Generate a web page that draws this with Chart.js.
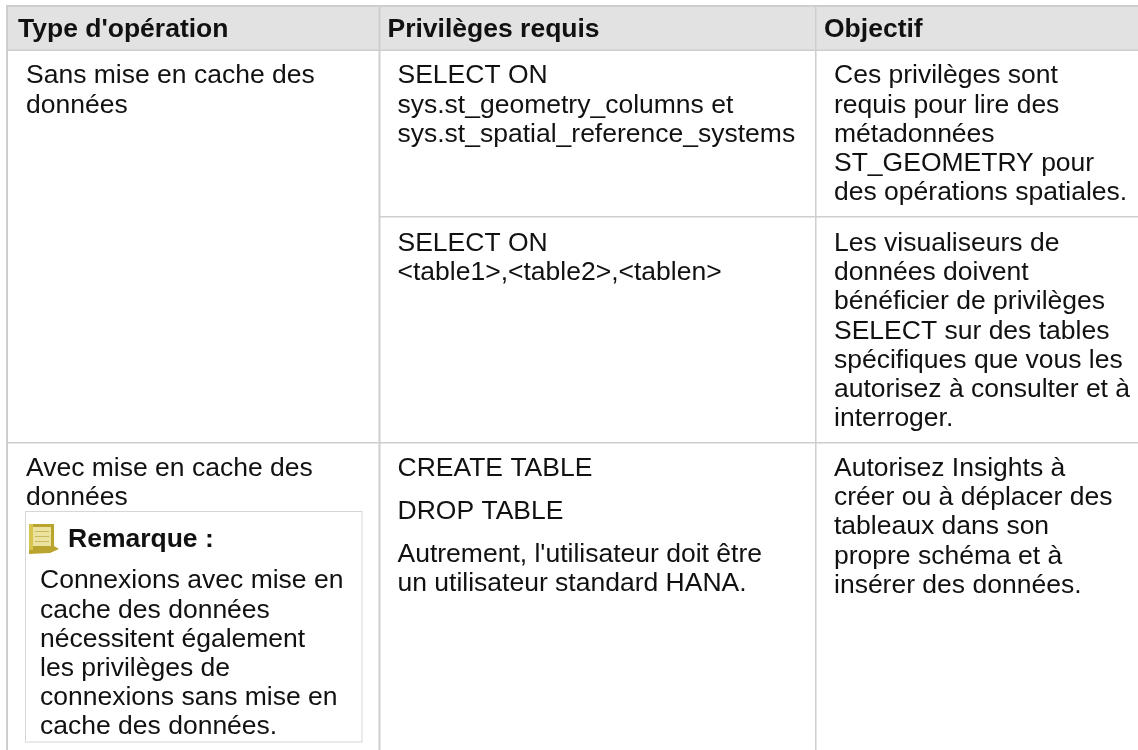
<!DOCTYPE html>
<html lang="fr"><head><meta charset="utf-8">
<style>html,body{margin:0;padding:0;background:#fff}canvas{display:block}</style>
<script src="https://cdn.jsdelivr.net/npm/chart.js@4"></script></head>
<body><canvas id="c" width="1138" height="750"></canvas>
<script>
const headers = ["Type d'opération", "Privilèges requis", "Objectif"];
const opSans = ["Sans mise en cache des", "données"];
const opAvec = ["Avec mise en cache des", "données"];
const noteTitle = "Remarque :";
const noteBody = ["Connexions avec mise en", "cache des données", "nécessitent également", "les privilèges de", "connexions sans mise en", "cache des données."];
const priv1 = ["SELECT ON", "sys.st_geometry_columns et", "sys.st_spatial_reference_systems"];
const priv2 = ["SELECT ON", "<table1>,<table2>,<tablen>"];
const priv3a = ["CREATE TABLE"];
const priv3b = ["DROP TABLE"];
const priv3c = ["Autrement, l'utilisateur doit être", "un utilisateur standard HANA."];
const obj1 = ["Ces privilèges sont", "requis pour lire des", "métadonnées", "ST_GEOMETRY pour", "des opérations spatiales."];
const obj2 = ["Les visualiseurs de", "données doivent", "bénéficier de privilèges", "SELECT sur des tables", "spécifiques que vous les", "autorisez à consulter et à", "interroger."];
const obj3 = ["Autorisez Insights à", "créer ou à déplacer des", "tableaux dans son", "propre schéma et à", "insérer des données."];

const FONT = '"Liberation Sans", Arial, sans-serif', SIZE = 26.5, LH = 29.2;
const tablePlugin = { id:'table', beforeDatasetsDraw(chart){
  const c = chart.ctx, X = v=>chart.scales.x.getPixelForValue(v), Y = v=>chart.scales.y.getPixelForValue(v);
  const rect=(x0,y0,x1,y1,col)=>{c.fillStyle=col;c.fillRect(X(x0),Y(y0),X(x1)-X(x0),Y(y1)-Y(y0));};
  const text=(lines,x,y,bold)=>{c.fillStyle='#111';c.textBaseline='alphabetic';c.textAlign='left';
    c.font=(bold?'bold ':'')+SIZE+'px '+FONT; lines.forEach((t,i)=>c.fillText(t,X(x),Y(y+i*LH)));};
  const B='#cecece';
  rect(6,5,1138,50,'#e2e2e2');
  rect(6,5,1138,7,B); rect(6,5,8,750,B);
  rect(6,49.5,1138,51,B);
  rect(378.5,5,380.5,750,B); rect(815,5,816.5,750,B);
  rect(380,216,1138,217.5,B); rect(6,442,1138,443.5,B);
  text([headers[0]],18,36.5,true); text([headers[1]],387.5,36.5,true); text([headers[2]],824,36.5,true);
  text(opSans,26,83.3); text(priv1,397.5,83.3); text(obj1,834,83.3);
  text(priv2,397.5,251); text(obj2,834,251);
  text(opAvec,26,475.5); text(priv3a,397.5,476); text(priv3b,397.5,518.5); text(priv3c,397.5,561.5); text(obj3,834,476);
  // note box
  rect(25,511,362.5,742.5,'#d6d6d6'); rect(26,512,361.5,741.5,'#fff');
  // icon
  c.fillStyle='#b9a42f'; c.beginPath(); c.moveTo(X(29),Y(524)); c.lineTo(X(54),Y(524)); c.lineTo(X(54),Y(546)); c.lineTo(X(59),Y(549)); c.lineTo(X(50),Y(553)); c.lineTo(X(29),Y(554)); c.closePath(); c.fill();
  rect(33,527,51,546,'#ece2a0');
  rect(29,524,33,550,'#d6c44e');
  [531,536,541].forEach(v=>rect(35,v,49,v+1,'#c9b95c'));
  text([noteTitle],68,546.7,true);
  text(noteBody,40,588.3);
}};
new Chart(document.getElementById('c'),{
  type:'scatter', data:{datasets:[{data:[],pointRadius:0}]},
  options:{responsive:false,animation:false,layout:{padding:0},
    plugins:{legend:{display:false},tooltip:{enabled:false}},
    scales:{x:{type:'linear',display:false,min:0,max:1138},y:{type:'linear',display:false,min:0,max:750,reverse:true}}},
  plugins:[tablePlugin]
});
</script></body></html>
